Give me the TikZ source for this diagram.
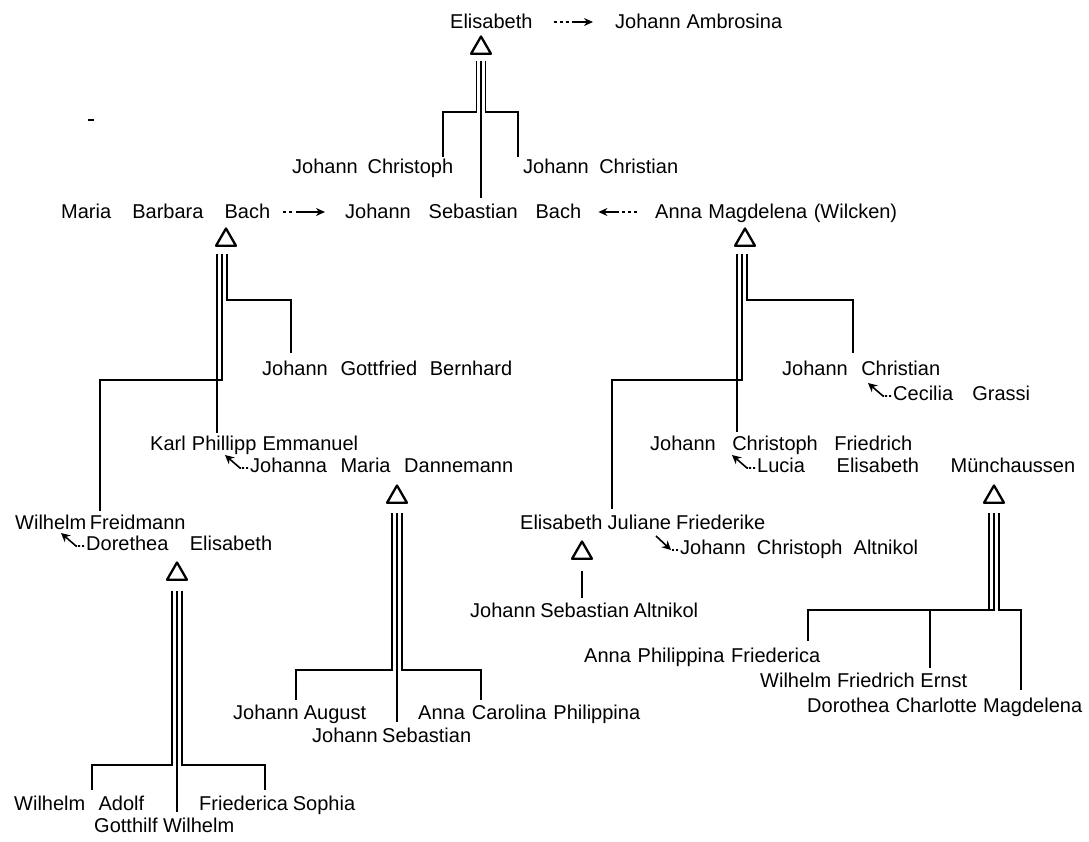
\documentclass[tikz,border=0pt]{standalone}
\usepackage{fontspec}
\setmainfont{Liberation Sans}
\usetikzlibrary{arrows.meta,shapes.geometric,calc}

% a name set in a box of fixed width, the word gaps spread to fill it
\newcommand{\nm}[2]{\makebox[#1pt][s]{#2}}

\tikzset{
  pers/.style={anchor=base west, inner sep=0pt, text height=15pt, text depth=1pt},
  kin/.style={line width=1.5pt},
  hbar/.style={line width=2.4pt},
  tri/.style={draw, line width=2.3pt, line join=round, regular polygon, regular polygon sides=3,
              minimum size=23pt, inner sep=0pt},
  wedA/.style={line width=1.6pt,
               dash pattern=on 3pt off 3pt on 3pt off 3pt on 3pt off 3pt on 80pt off 1pt,
               -{Stealth[length=9pt,width=8pt]}},
  wedB/.style={line width=1.6pt,
               dash pattern=on 3pt off 3pt on 3pt off 4pt on 80pt off 1pt,
               -{Stealth[length=9pt,width=8pt]}},
  wedD/.style={line width=1.6pt,
               dash pattern=on 2pt off 2pt on 2pt off 1pt on 80pt off 1pt,
               -{Stealth[length=9pt,width=9pt]}},
  dots/.style={line width=1.6pt, dash pattern=on 2pt off 2pt},
}

\begin{document}
\begin{tikzpicture}[x=1pt, y=-1pt, font=\fontsize{20}{24}\selectfont]
\fill[white] (0,0) rectangle (1089,842);
\useasboundingbox (0,0) rectangle (1089,842);

% ---------------- names ----------------
\node[pers] (elis)  at (450,29)  {Elisabeth};
\node[pers] (ambro) at (615,29)  {\nm{167}{Johann Ambrosina}};
\node[pers] (jc1)   at (292,174) {\nm{161}{Johann Christoph}};
\node[pers] (jcn1)  at (523,174) {\nm{155}{Johann Christian}};

\node[pers] (maria) at (61,219)  {\nm{209}{Maria Barbara Bach}};
\node[pers] (jsb)   at (345,219) {\nm{236}{Johann Sebastian Bach}};
\node[pers] (anna)  at (655,219) {\nm{242}{Anna Magdelena (Wilcken)}};

\node[pers] (jgb)   at (262,375) {\nm{250}{Johann Gottfried Bernhard}};
\node[pers] (jcn2)  at (782,375) {\nm{158}{Johann Christian}};
\node[pers] (cec)   at (893,400) {\nm{137}{Cecilia Grassi}};

\node[pers] (kpe)   at (150,450) {\nm{208}{Karl Phillipp Emmanuel}};
\node[pers] (dann)  at (250,472) {\nm{263}{Johanna Maria Dannemann}};
\node[pers] (jcf)   at (650,450) {\nm{262}{Johann Christoph Friedrich}};
\node[pers] (lucia) at (757,472) {\nm{318}{Lucia Elisabeth Münchaussen}};

\node[pers] (wf)    at (15,529)  {\nm{165}{Wilhelm Freidmann}};
\node[pers] (dor)   at (86,550)  {\nm{186}{Dorethea Elisabeth}};
\node[pers] (ejf)   at (520,529) {\nm{245}{Elisabeth Juliane Friederike}};
\node[pers] (jca)   at (680,554) {\nm{238}{Johann Christoph Altnikol}};
\node[pers] (jsa)   at (470,617) {\nm{228}{Johann Sebastian Altnikol}};

\node[pers] (apf)   at (584,662) {\nm{236}{Anna Philippina Friederica}};
\node[pers] (wfe)   at (760,687) {\nm{207}{Wilhelm Friedrich Ernst}};
\node[pers] (dcm)   at (807,712) {\nm{275}{Dorothea Charlotte Magdelena}};

\node[pers] (ja)    at (233,719) {\nm{133}{Johann August}};
\node[pers] (js)    at (312,742) {\nm{159}{Johann Sebastian}};
\node[pers] (acp)   at (418,719) {\nm{222}{Anna Carolina Philippina}};

\node[pers] (wa)    at (14,810)  {\nm{130}{Wilhelm Adolf}};
\node[pers] (fs)    at (199,810) {\nm{156}{Friederica Sophia}};
\node[pers] (gw)    at (94,832)  {\nm{140}{Gotthilf Wilhelm}};

% ---------------- mother marks ----------------
\node[tri] (t1) at (481,48)  {};
\node[tri] (t2) at (226,240) {};
\node[tri] (t3) at (745,240) {};
\node[tri] (t4) at (397,497) {};
\node[tri] (t5) at (177,574) {};
\node[tri] (t6) at (582,553) {};
\node[tri] (t7) at (994,497) {};

% ---------------- marriages ----------------
\draw[wedA, shorten <=21pt, shorten >=22pt] (elis.east) -- (ambro.west);
\draw[wedB, shorten <=13pt, shorten >=20pt] (maria.east) -- (jsb.west);
\draw[wedA, shorten <=18pt, shorten >=17pt] (anna.west) -- (jsb.east);

\draw[wedD] ([xshift=-2pt,yshift=-3pt]dann.west)  -- ++(-8,0) -- ++(-15,-13);
\draw[wedD] ([xshift=-2pt,yshift=-3pt]cec.west)   -- ++(-8,0) -- ++(-15,-13);
\draw[wedD] ([xshift=-2pt,yshift=-3pt]lucia.west) -- ++(-8,0) -- ++(-15,-13);
\draw[wedD] ([xshift=-2pt,yshift=-3pt]dor.west)   -- ++(-8,0) -- ++(-15,-13);
\draw[dots] ([xshift=-2pt,yshift=-3pt]jca.west) -- ++(-7,0) coordinate (akc);
\draw[line width=1.6pt, -{Stealth[length=9pt,width=9pt]}] ($(akc)+(-15,-14)$) -- (akc);

% ---------------- bar heights and line ends ----------------
\coordinate (b1)  at (0,112);
\coordinate (b2a) at (0,300);
\coordinate (b2b) at (0,380);
\coordinate (b3a) at (0,300);
\coordinate (b3b) at (0,380);
\coordinate (b4)  at (0,670);
\coordinate (b5)  at (0,765);
\coordinate (b7)  at (0,610);

\coordinate (d-jc1)  at (443,157);
\coordinate (d-jsb)  at (481,198);
\coordinate (d-jcn1) at (518,157);

\coordinate (d-jgb)  at (291,353);
\coordinate (d-wf)   at (100,511);
\coordinate (d-kpe)  at (217,433);

\coordinate (d-jcn2) at (853,353);
\coordinate (d-ejf)  at (612,509);
\coordinate (d-jcf)  at (737,432);

\coordinate (d-ja)   at (296,700);
\coordinate (d-js)   at (397,722);
\coordinate (d-acp)  at (481,700);

\coordinate (d-wa)   at (92,790);
\coordinate (d-gw)   at (177,812);
\coordinate (d-fs)   at (265,790);

\coordinate (d-jsa)  at (582,598);

\coordinate (d-apf)  at (808,641);
\coordinate (d-wfe)  at (930,668);
\coordinate (d-dcm)  at (1021,690);

% ---------------- Elisabeth's children ----------------
\draw[kin] ($(t1.south)+(-4.5,6)$) coordinate (s1a) |- (d-jc1 |- b1) -- (d-jc1);
\draw[kin] ($(t1.south)+(0,6)$) -- (d-jsb);
\draw[kin] ($(t1.south)+(4.5,6)$) coordinate (s1c) |- (d-jcn1 |- b1) -- (d-jcn1);
\draw[hbar] (s1a |- b1) -- (d-jc1 |- b1);
\draw[hbar] (s1c |- b1) -- (d-jcn1 |- b1);

% ---------------- Maria Barbara's children ----------------
\draw[kin] ($(t2.south)+(1,7)$) coordinate (s2c) |- (d-jgb |- b2a) -- (d-jgb);
\draw[kin] ($(t2.south)+(-4,7)$) coordinate (s2b) |- (d-wf |- b2b) -- (d-wf);
\draw[kin] ($(t2.south)+(-9,7)$) -- (d-kpe);
\draw[hbar] (s2c |- b2a) -- (d-jgb |- b2a);
\draw[hbar] (s2b |- b2b) -- (d-wf |- b2b);

% ---------------- Anna Magdelena's children ----------------
\draw[kin] ($(t3.south)+(2,7)$) coordinate (s3c) |- (d-jcn2 |- b3a) -- (d-jcn2);
\draw[kin] ($(t3.south)+(-3,7)$) coordinate (s3b) |- (d-ejf |- b3b) -- (d-ejf);
\draw[kin] ($(t3.south)+(-8,7)$) -- (d-jcf);
\draw[hbar] (s3c |- b3a) -- (d-jcn2 |- b3a);
\draw[hbar] (s3b |- b3b) -- (d-ejf |- b3b);

% ---------------- Johanna Maria's children ----------------
\draw[kin] ($(t4.south)+(-5,9)$) coordinate (s4a) |- (d-ja |- b4) -- (d-ja);
\draw[kin] ($(t4.south)+(0,9)$) -- (d-js);
\draw[kin] ($(t4.south)+(5,9)$) coordinate (s4c) |- (d-acp |- b4) -- (d-acp);
\draw[hbar] (s4a |- b4) -- (d-ja |- b4);
\draw[hbar] (s4c |- b4) -- (d-acp |- b4);

% ---------------- Dorethea's children ----------------
\draw[kin] ($(t5.south)+(-5,10)$) coordinate (s5a) |- (d-wa |- b5) -- (d-wa);
\draw[kin] ($(t5.south)+(0,10)$) -- (d-gw);
\draw[kin] ($(t5.south)+(5,10)$) coordinate (s5c) |- (d-fs |- b5) -- (d-fs);
\draw[hbar] (s5a |- b5) -- (d-wa |- b5);
\draw[hbar] (s5c |- b5) -- (d-fs |- b5);

% ---------------- Elisabeth Juliane's son ----------------
\draw[kin] ($(t6.south)+(0,11)$) -- (d-jsa);

% ---------------- Lucia Elisabeth's children ----------------
\draw[kin] ($(t7.south)+(-5,9)$) coordinate (s7a) |- (d-apf |- b7) -- (d-apf);
\draw[kin] ($(t7.south)+(0,9)$) coordinate (s7b) |- (d-wfe |- b7) -- (d-wfe);
\draw[kin] ($(t7.south)+(5,9)$) coordinate (s7c) |- (d-dcm |- b7) -- (d-dcm);
\draw[hbar] (s7b |- b7) -- (d-apf |- b7);
\draw[hbar] (s7c |- b7) -- (d-dcm |- b7);

% small stroke at the upper left
\draw[line width=1.8pt] (88,120) -- (94,120);
\end{tikzpicture}
\end{document}
